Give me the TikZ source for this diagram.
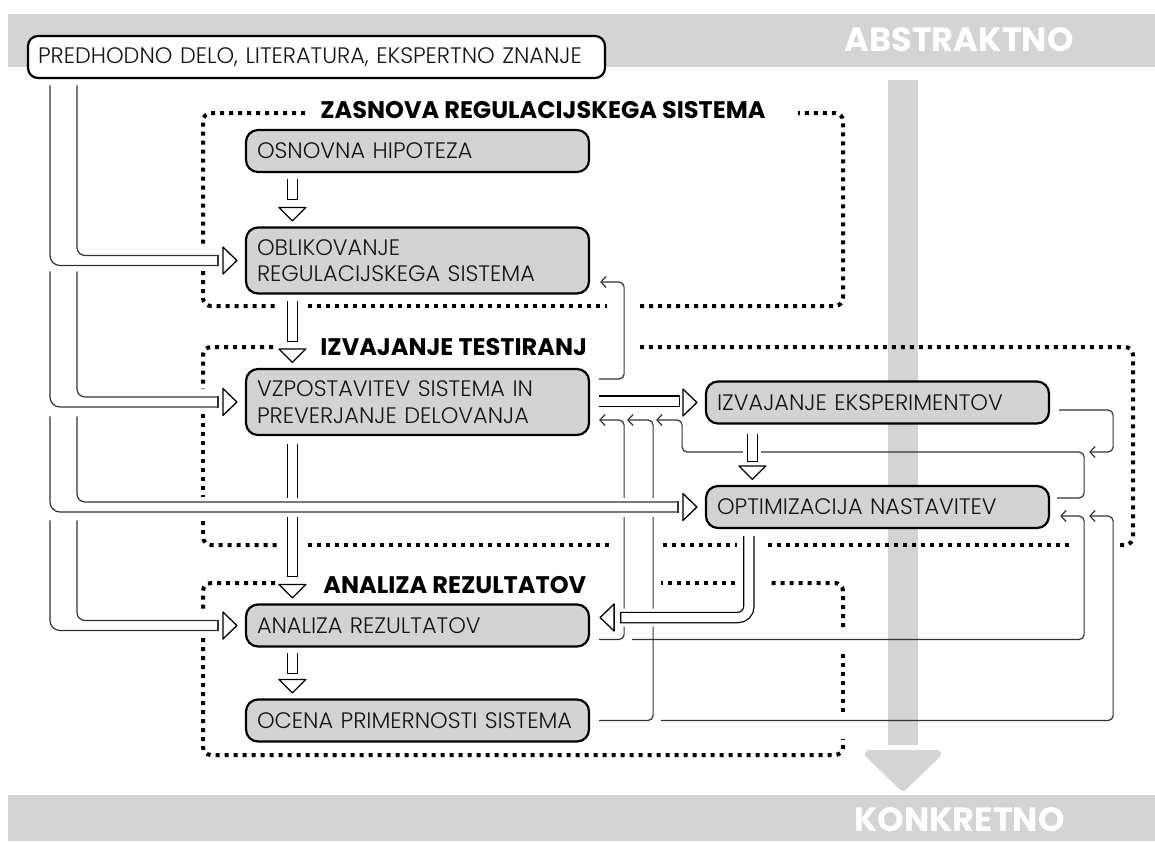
\documentclass[tikz,border=0pt]{standalone}
\usepackage{fontspec}
\usetikzlibrary{calc,arrows.meta}
\setmainfont{Poppins}
\IfFontExistsTF{Poppins Light}{\newfontfamily\boxfont{Poppins Light}}{\newfontfamily\boxfont{Poppins}}
\newfontfamily\headfont{Poppins}

\definecolor{bandgray}{HTML}{D4D4D4}
\definecolor{boxgray}{HTML}{D3D3D3}
\definecolor{linegray}{HTML}{333333}
\definecolor{textgray}{HTML}{141414}

% open triangle heads of the broad arrows
\newcommand\rtri[1]{\draw[tri] ($(#1)+(-22,-13.5)$) -- ($(#1)+(-22,13.5)$) -- ($(#1)+(-8,0)$) -- cycle;}
\newcommand\dtri[1]{\draw[tri] ($(#1)+(34,-19)$) -- ($(#1)+(61,-19)$) -- ($(#1)+(47.5,-5.5)$) -- cycle;}
% two rails from the source box ending in a broad arrow into #2
\newcommand\feedin[2]{%
  \draw[feed,rounded corners=5pt] (50,#1) |- ($(#2.west)+(-27,5)$);
  \draw[feed,rounded corners=4pt] (77,#1) |- ($(#2.west)+(-27,-5)$);
  \draw[feed] ($(#2.west)+(-27,5)$) -- ($(#2.west)+(-27,-5)$);
  \rtri{#2.west}}

\begin{document}
\begin{tikzpicture}[x=0.5pt,y=-0.5pt,
  band/.style={fill=bandgray},
  gbox/.style={draw=black, line width=1.1pt, fill=boxgray, rounded corners=6pt,
    minimum width=171.5pt, minimum height=21pt, text width=160.5pt,
    inner xsep=5.5pt, inner ysep=0pt, align=left, text=textgray,
    font=\boxfont\fontsize{11.2}{13.3}\selectfont},
  wbox/.style={draw=black, line width=1.1pt, fill=white, rounded corners=5pt,
    minimum width=288.5pt, minimum height=21pt, text width=278.5pt,
    inner xsep=5pt, inner ysep=0pt, align=left, text=textgray,
    font=\boxfont\fontsize{11.2}{13.3}\selectfont},
  ttl/.style={inner sep=0pt, anchor=base west, font=\headfont\bfseries\fontsize{12}{14}\selectfont},
  bigw/.style={inner sep=0pt, text=white, font=\headfont\bfseries\fontsize{16.8}{20}\selectfont},
  dotf/.style={draw=black, line width=2pt, dash pattern=on 2pt off 2.5pt, rounded corners=4pt},
  conn/.style={draw=linegray, line width=0.6pt, rounded corners=2.5pt,
    -{Straight Barb[length=2.6pt,width=5.5pt]}},
  feed/.style={draw=linegray, line width=0.6pt, line cap=rect},
  pipe/.style={draw=black, line width=5.75pt, rounded corners=5.5pt,
    preaction={draw=white, line width=9pt},
    postaction={draw=white, line width=4.5pt, shorten >=0.65pt}},
  tri/.style={draw=black, fill=white, line width=0.65pt, line join=round}
]
\useasboundingbox (0,0) rectangle (1155,841);

% abstract-to-concrete axis
\fill[band] (8,14) rectangle (1155,67);
\fill[band] (8,795) rectangle (1155,841);
\fill[band] (888,80) rectangle (918,745);
\filldraw[band, draw=bandgray, line width=4pt, line join=round] (869,754) -- (937,754) -- (903,787) -- cycle;
\node[bigw] (abs) at (959,40) {ABSTRAKTNO};
\node[bigw] (kon) at (959.5,820) {KONKRETNO};

% dotted group frames
\draw[dotf] (305,113) -| (203,247);
\draw[dotf] (203,271) |- (277,306);
\draw[dotf] (308,306) -- (607,306);
\draw[dotf] (640,306) -| (843,113) -- (798,113);

\draw[dotf] (273,347) -| (203,389);
\draw[dotf] (203,414) -- (203,497);
\draw[dotf] (203,521) |- (277,545);
\draw[dotf] (308,545) -- (609,545);
\draw[dotf] (663,545) -- (737,545);
\draw[dotf] (768,545) -- (1069,545);
\draw[dotf] (1120,545) -| (1133,347) -- (640,347);

\draw[dotf] (275,583) -| (203,612);
\draw[dotf] (203,638) |- (843,755) -- (843,739);
\draw[dotf] (843,712) -- (843,650);
\draw[dotf] (843,627) |- (767,583);
\draw[dotf] (735,583) -- (661,583);

\node[ttl] (g1) at (320,118) {ZASNOVA REGULACIJSKEGA SISTEMA};
\node[ttl] (g2) at (320,355) {IZVAJANJE TESTIRANJ};
\node[ttl] (g3) at (323,593) {ANALIZA REZULTATOV};

% process steps
\node[wbox] (pre) at (316.5,57) {PREDHODNO DELO, LITERATURA, EKSPERTNO ZNANJE};
\node[gbox] (osn) at (417.5,151) {OSNOVNA HIPOTEZA};
\node[gbox, minimum height=33pt] (obl) at (417.5,260.5) {OBLIKOVANJE\\REGULACIJSKEGA SISTEMA};
\node[gbox, minimum height=33pt] (vzp) at (417.5,402) {VZPOSTAVITEV SISTEMA IN\\PREVERJANJE DELOVANJA};
\node[gbox] (izv) at (877.5,402.5) {IZVAJANJE EKSPERIMENTOV};
\node[gbox] (opt) at (877.5,507) {OPTIMIZACIJA NASTAVITEV};
\node[gbox] (ana) at (417.5,625.5) {ANALIZA REZULTATOV};
\node[gbox] (oce) at (417.5,720.5) {OCENA PRIMERNOSTI SISTEMA};

% feedback connectors
\draw[conn] ($(vzp.east)+(9,-23)$) -| ($(obl.east)+(34,21.5)$) -- ($(obl.east)+(10,21.5)$);
\draw[conn] ($(ana.east)+(9,14)$) -| ($(vzp.east)+(34,18)$) -- ($(vzp.east)+(9,18)$);
\draw[conn] ($(oce.east)+(9,0)$) -| ($(vzp.east)+(63,18)$) -- ($(vzp.east)+(37,18)$);
\draw[conn] ($(opt.east)+(7,-9)$) -| ($(opt.east)+(34,-55)$) -| ($(vzp.east)+(92,18)$) -- ($(vzp.east)+(66,18)$);
\draw[conn] ($(izv.east)+(9,7.5)$) -| ($(izv.east)+(63,49.5)$) -- ($(izv.east)+(39,49.5)$);
\draw[conn] ($(ana.east)+(42,14)$) -| ($(opt.east)+(34,9)$) -- ($(opt.east)+(10,9)$);
\draw[conn] ($(oce.east)+(71,0)$) -| ($(opt.east)+(63,9)$) -- ($(opt.east)+(39,9)$);

% broad arrows between steps
\draw[pipe] ($(osn.south west)+(47.5,6)$) -- ($(obl.north west)+(47.5,-26)$);
\dtri{obl.north west}
\draw[pipe] ($(obl.south west)+(47.5,6)$) -- ($(vzp.north west)+(47.5,-26)$);
\dtri{vzp.north west}
\draw[pipe] ($(vzp.south west)+(47.5,8)$) -- ($(ana.north west)+(47.5,-26)$);
\dtri{ana.north west}
\draw[pipe] ($(ana.south west)+(47.5,5)$) -- ($(oce.north west)+(47.5,-24)$);
\dtri{oce.north west}
\draw[pipe] ($(vzp.east)+(9,-1)$) -- ($(vzp.east -| izv.west)+(-25,-1)$);
\rtri{izv.west}
\draw[pipe] ($(izv.south west)+(47.5,9)$) -- ($(opt.north west)+(47.5,-23)$);
\dtri{opt.north west}
\draw[pipe] ($(opt.south west)+(44,7)$) |- ($(ana.east)+(30,-8)$);
\draw[tri] ($(ana.east)+(24,-21.5)$) -- ($(ana.east)+(24,5.5)$) -- ($(ana.east)+(10,-8)$) -- cycle;

% inputs from prior work
\feedin{86}{obl}
\feedin{272}{vzp}
\draw[white, line width=9.5pt] ($(opt.west)+(-606,0)$) -- ($(opt.west)+(-27,0)$);
\feedin{417}{opt}
\feedin{521}{ana}
\end{tikzpicture}
\end{document}
